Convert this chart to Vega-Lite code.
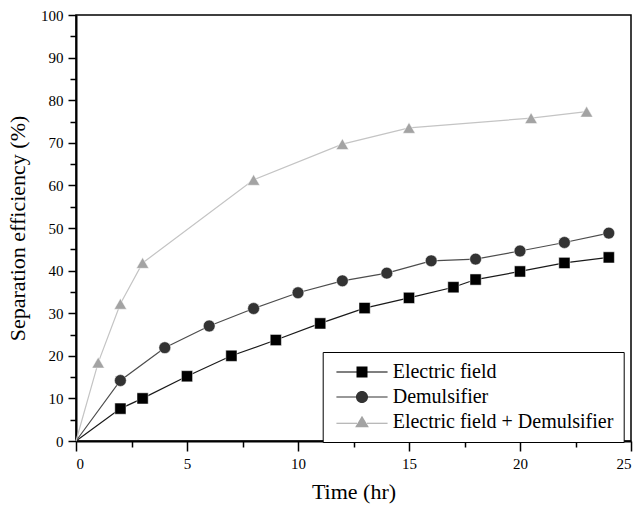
{
  "$schema": "https://vega.github.io/schema/vega-lite/v6.json",
  "width": 555,
  "height": 426,
  "autosize": "none",
  "padding": {"left": 76, "top": 15, "right": 8, "bottom": 64},
  "background": "white",
  "config": {
    "view": {"stroke": "#000", "strokeWidth": 1.5},
    "font": "Liberation Serif",
    "axis": {"grid": false, "domainColor": "#000", "tickColor": "#000", "labelColor": "#000", "titleColor": "#000", "labelFont": "Liberation Serif", "titleFont": "Liberation Serif", "titleFontWeight": "normal"}
  },
  "data": {"values": [
    {"series": "Electric field", "t": 0, "eff": 0},
    {"series": "Electric field", "t": 2, "eff": 7.6},
    {"series": "Electric field", "t": 3, "eff": 10},
    {"series": "Electric field", "t": 5, "eff": 15.2},
    {"series": "Electric field", "t": 7, "eff": 20},
    {"series": "Electric field", "t": 9, "eff": 23.7},
    {"series": "Electric field", "t": 11, "eff": 27.6},
    {"series": "Electric field", "t": 13, "eff": 31.2},
    {"series": "Electric field", "t": 15, "eff": 33.6},
    {"series": "Electric field", "t": 17, "eff": 36.1},
    {"series": "Electric field", "t": 18, "eff": 37.9},
    {"series": "Electric field", "t": 20, "eff": 39.8},
    {"series": "Electric field", "t": 22, "eff": 41.8},
    {"series": "Electric field", "t": 24, "eff": 43.1},
    {"series": "Demulsifier", "t": 0, "eff": 0},
    {"series": "Demulsifier", "t": 2, "eff": 14.2},
    {"series": "Demulsifier", "t": 4, "eff": 21.9},
    {"series": "Demulsifier", "t": 6, "eff": 27},
    {"series": "Demulsifier", "t": 8, "eff": 31.1},
    {"series": "Demulsifier", "t": 10, "eff": 34.8},
    {"series": "Demulsifier", "t": 12, "eff": 37.6},
    {"series": "Demulsifier", "t": 14, "eff": 39.4},
    {"series": "Demulsifier", "t": 16, "eff": 42.3},
    {"series": "Demulsifier", "t": 18, "eff": 42.7},
    {"series": "Demulsifier", "t": 20, "eff": 44.6},
    {"series": "Demulsifier", "t": 22, "eff": 46.6},
    {"series": "Demulsifier", "t": 24, "eff": 48.8},
    {"series": "Electric field + Demulsifier", "t": 0, "eff": 0},
    {"series": "Electric field + Demulsifier", "t": 1, "eff": 18.4},
    {"series": "Electric field + Demulsifier", "t": 2, "eff": 32.2},
    {"series": "Electric field + Demulsifier", "t": 3, "eff": 41.8},
    {"series": "Electric field + Demulsifier", "t": 8, "eff": 61.3},
    {"series": "Electric field + Demulsifier", "t": 12, "eff": 69.7},
    {"series": "Electric field + Demulsifier", "t": 15, "eff": 73.5},
    {"series": "Electric field + Demulsifier", "t": 20.5, "eff": 75.8},
    {"series": "Electric field + Demulsifier", "t": 23, "eff": 77.3}
  ]},
  "layer": [
    {
      "mark": {"type": "line", "strokeWidth": 1.2},
      "encoding": {
        "x": {"field": "t", "type": "quantitative", "scale": {"domain": [0, 25], "nice": false},
          "axis": {"values": [0, 5, 10, 15, 20, 25], "tickSize": 10, "tickWidth": 1.5, "domainWidth": 2, "labelFontSize": 15, "labelPadding": 5, "title": "Time (hr)", "titleFontSize": 22, "titlePadding": 10}},
        "y": {"field": "eff", "type": "quantitative", "scale": {"domain": [0, 100], "nice": false},
          "axis": {"values": [0, 10, 20, 30, 40, 50, 60, 70, 80, 90, 100], "tickSize": 8, "tickWidth": 1.5, "domainWidth": 2, "labelFontSize": 15, "labelPadding": 5, "title": "Separation efficiency (%)", "titleFontSize": 22, "titlePadding": 11}},
        "stroke": {"field": "series", "type": "nominal", "legend": null,
          "scale": {"domain": ["Electric field", "Demulsifier", "Electric field + Demulsifier"], "range": ["#1a1a1a", "#4d4d4d", "#c4c4c4"]}},
        "order": {"field": "t", "type": "quantitative"}
      }
    },
    {
      "transform": [{"filter": "datum.t > 0"}],
      "mark": {"type": "point", "filled": true, "opacity": 1, "stroke": "#ffffff", "strokeWidth": 0.5},
      "encoding": {
        "x": {"field": "t", "type": "quantitative",
          "axis": {"orient": "bottom", "values": [2.5, 7.5, 12.5, 17.5, 22.5], "tickSize": 6, "tickWidth": 1.5, "labels": false, "domain": false, "title": null}},
        "y": {"field": "eff", "type": "quantitative",
          "axis": {"orient": "left", "values": [5, 15, 25, 35, 45, 55, 65, 75, 85, 95], "tickSize": 6, "tickWidth": 1.5, "labels": false, "domain": false, "title": null}},
        "fill": {"field": "series", "type": "nominal", "legend": null,
          "scale": {"domain": ["Electric field", "Demulsifier", "Electric field + Demulsifier"], "range": ["#000000", "#333333", "#a3a3a3"]}},
        "shape": {"field": "series", "type": "nominal", "legend": null,
          "scale": {"domain": ["Electric field", "Demulsifier", "Electric field + Demulsifier"], "range": ["square", "circle", "triangle-up"]}},
        "size": {"field": "series", "type": "ordinal", "legend": null,
          "scale": {"domain": ["Electric field", "Demulsifier", "Electric field + Demulsifier"], "range": [125, 155, 230]}}
      }
    },
    {
      "transform": [{"filter": "datum.t < 0"}],
      "mark": {"type": "point", "filled": true, "opacity": 1, "size": 121},
      "encoding": {
        "x": {"field": "t", "type": "quantitative", "axis": null},
        "y": {"field": "eff", "type": "quantitative", "axis": null},
        "fill": {"field": "series", "type": "nominal",
          "scale": {"domain": ["Electric field", "Demulsifier", "Electric field + Demulsifier"], "range": ["#000000", "#333333", "#a3a3a3"]},
          "legend": {
            "title": null, "orient": "none", "legendX": 246.7, "legendY": 337,
            "strokeColor": "#000", "fillColor": "#fff", "padding": 10,
            "labelFont": "Liberation Serif", "labelFontSize": 20, "labelColor": "#000", "labelLimit": 400,
            "symbolSize": 121, "symbolOffset": 19.3, "labelOffset": 20.7, "rowPadding": 5
          }
        },
        "shape": {"field": "series", "type": "nominal",
          "scale": {"domain": ["Electric field", "Demulsifier", "Electric field + Demulsifier"],
            "range": [
              "M-4.65,-0.11H-1V-1H1V-0.11H4.65V0.11H1V1H-1V0.11H-4.65Z",
              "M-4.65,-0.11H-1.05V0.11H-4.65Z M1.05,-0.11H4.65V0.11H1.05Z M1.1,0A1.1,1.1 0 1,1 -1.1,0A1.1,1.1 0 1,1 1.1,0Z",
              "M-4.65,0.12H-0.9V0.34H-4.65Z M0.9,0.12H4.65V0.34H0.9Z M0,-1.15L1.25,0.95L-1.25,0.95Z"
            ]}}
      }
    }
  ],
  "resolve": {
    "axis": {"x": "independent", "y": "independent"},
    "scale": {"shape": "independent", "fill": "independent"}
  }
}
